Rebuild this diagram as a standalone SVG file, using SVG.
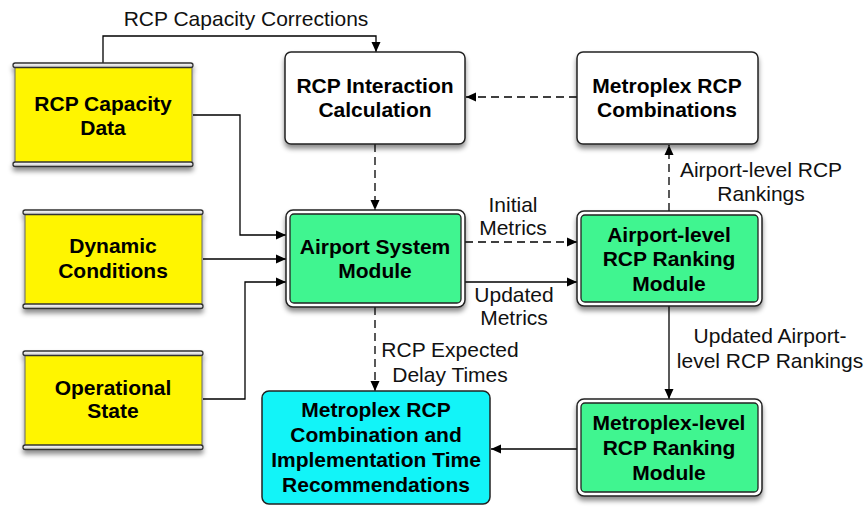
<svg xmlns="http://www.w3.org/2000/svg" width="867" height="507" viewBox="0 0 867 507">
<defs>
<filter id="sh" x="-10%" y="-10%" width="120%" height="130%">
<feDropShadow dx="0" dy="4" stdDeviation="2.5" flood-color="#000" flood-opacity="0.45"/>
</filter>
<linearGradient id="bar" x1="0" y1="0" x2="0" y2="1">
<stop offset="0" stop-color="#ffffff"/>
<stop offset="1" stop-color="#c8c8c8"/>
</linearGradient>
<marker id="ah" viewBox="0 0 10 10" refX="10" refY="5" markerWidth="10" markerHeight="10" markerUnits="userSpaceOnUse" orient="auto">
<path d="M0,0.5 L10,5 L0,9.5 Z" fill="#000"/>
</marker>
<style>
.nt{font-family:"Liberation Sans",Arial,sans-serif;font-weight:bold;font-size:21px;text-anchor:middle;fill:#000}
.lt{font-family:"Liberation Sans",Arial,sans-serif;font-size:21px;text-anchor:middle;fill:#111}
.body{fill:#FFF500;stroke:#666;stroke-width:1}
.bar{fill:url(#bar);stroke:#333;stroke-width:1.3}
.plain{fill:#fff;stroke:#222;stroke-width:1.5}
.outer{fill:#fff;stroke:#222;stroke-width:1.5}
.green{fill:#40F590;stroke:#222;stroke-width:1.3}
.cyan{fill:#12F4F8;stroke:#222;stroke-width:1.5}
.c{fill:none;stroke:#000;stroke-width:1.3}
.d{stroke-dasharray:8,5}
</style>
</defs>

<g id="connectors">
<path class="c" d="M103,64 V36 H376 V52" marker-end="url(#ah)"/>
<path class="c" d="M193,115 H240 V235 H286" marker-end="url(#ah)"/>
<path class="c" d="M203,259 H286" marker-end="url(#ah)"/>
<path class="c" d="M203,399 H245 V282 H286" marker-end="url(#ah)"/>
<path class="c d" d="M375,144 V210" marker-end="url(#ah)"/>
<path class="c d" d="M577,97 H466" marker-end="url(#ah)"/>
<path class="c d" d="M465,242 H577" marker-end="url(#ah)"/>
<path class="c" d="M465,282 H577" marker-end="url(#ah)"/>
<path class="c d" d="M669,211 V145" marker-end="url(#ah)"/>
<path class="c" d="M669,306 V399" marker-end="url(#ah)"/>
<path class="c" d="M577,449 H491" marker-end="url(#ah)"/>
<path class="c d" d="M375,307 V391" marker-end="url(#ah)"/>
<text class="lt" x="246" y="26">RCP Capacity Corrections</text>
<text class="lt" x="513" y="212">Initial</text>
<text class="lt" x="513" y="235">Metrics</text>
<text class="lt" x="514" y="302">Updated</text>
<text class="lt" x="514" y="325">Metrics</text>
<text class="lt" x="761" y="177">Airport-level RCP</text>
<text class="lt" x="761" y="201">Rankings</text>
<text class="lt" x="770" y="343">Updated Airport-</text>
<text class="lt" x="770" y="368">level RCP Rankings</text>
<text class="lt" x="450" y="357">RCP Expected</text>
<text class="lt" x="450" y="382">Delay Times</text>
</g>

<g id="rcp-capacity-data">
<g filter="url(#sh)">
<rect class="body" x="15" y="66" width="177" height="97"/>
<rect class="bar" x="13" y="63" width="180" height="4.5" rx="2.2"/>
<rect class="bar" x="13" y="162" width="180" height="4.5" rx="2.2"/>
</g>
<text class="nt" x="103" y="111">RCP Capacity</text>
<text class="nt" x="103" y="135">Data</text>
</g>

<g id="dynamic-conditions">
<g filter="url(#sh)">
<rect class="body" x="25" y="213" width="177" height="92"/>
<rect class="bar" x="23" y="210" width="180" height="4.5" rx="2.2"/>
<rect class="bar" x="23" y="304" width="180" height="4.5" rx="2.2"/>
</g>
<text class="nt" x="113" y="253">Dynamic</text>
<text class="nt" x="113" y="278">Conditions</text>
</g>

<g id="operational-state">
<g filter="url(#sh)">
<rect class="body" x="25" y="354" width="177" height="92"/>
<rect class="bar" x="23" y="351" width="180" height="4.5" rx="2.2"/>
<rect class="bar" x="23" y="445" width="180" height="4.5" rx="2.2"/>
</g>
<text class="nt" x="113" y="395">Operational</text>
<text class="nt" x="113" y="418">State</text>
</g>

<g id="rcp-interaction">
<rect class="plain" x="285" y="52" width="180" height="92" rx="6" filter="url(#sh)"/>
<text class="nt" x="375" y="93">RCP Interaction</text>
<text class="nt" x="375" y="117">Calculation</text>
</g>

<g id="metroplex-rcp-combinations">
<rect class="plain" x="577" y="52" width="181" height="92" rx="6" filter="url(#sh)"/>
<text class="nt" x="667" y="93">Metroplex RCP</text>
<text class="nt" x="667" y="117">Combinations</text>
</g>

<g id="airport-system-module">
<rect class="outer" x="286" y="210" width="179" height="97" rx="7" filter="url(#sh)"/>
<rect class="green" x="290" y="214" width="171" height="89" rx="4"/>
<text class="nt" x="375" y="254">Airport System</text>
<text class="nt" x="375" y="278">Module</text>
</g>

<g id="airport-level-ranking">
<rect class="outer" x="577" y="211" width="185" height="95" rx="7" filter="url(#sh)"/>
<rect class="green" x="581" y="215" width="177" height="87" rx="4"/>
<text class="nt" x="669" y="242">Airport-level</text>
<text class="nt" x="669" y="266">RCP Ranking</text>
<text class="nt" x="669" y="291">Module</text>
</g>

<g id="metroplex-level-ranking">
<rect class="outer" x="577" y="399" width="185" height="97" rx="7" filter="url(#sh)"/>
<rect class="green" x="581" y="403" width="177" height="89" rx="4"/>
<text class="nt" x="669" y="430">Metroplex-level</text>
<text class="nt" x="669" y="455">RCP Ranking</text>
<text class="nt" x="669" y="480">Module</text>
</g>

<g id="recommendations">
<rect class="cyan" x="262" y="391" width="228" height="113" rx="7"/>
<text class="nt" x="376" y="417">Metroplex RCP</text>
<text class="nt" x="376" y="442">Combination and</text>
<text class="nt" x="376" y="467">Implementation Time</text>
<text class="nt" x="376" y="492">Recommendations</text>
</g>
</svg>
